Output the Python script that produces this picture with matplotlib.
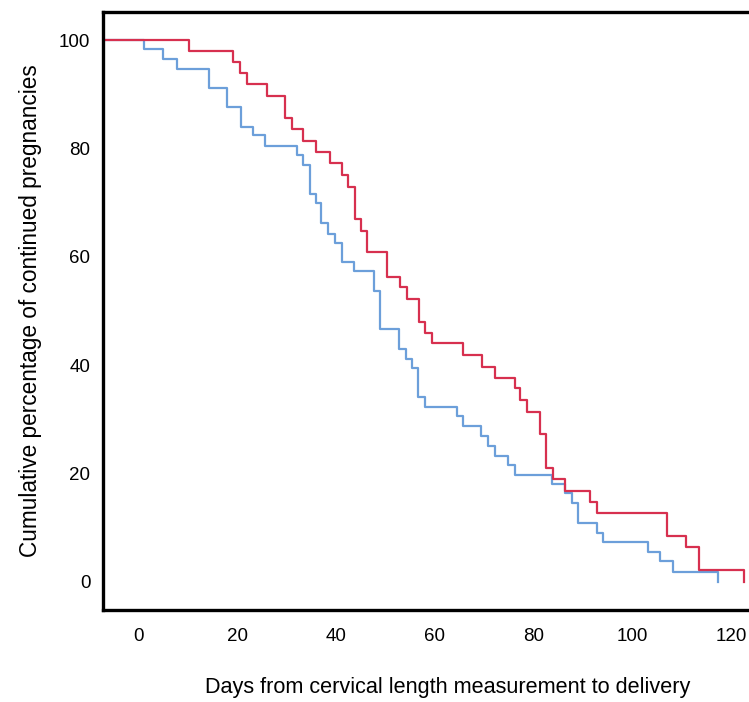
#!/usr/bin/env python3
"""Kaplan-Meier style curves: days from cervical length measurement to delivery."""

import matplotlib
matplotlib.use('Agg')
import matplotlib.pyplot as plt

# ---- data (event day, % remaining after the event) ----
red_days = [10.2, 19.2, 20.5, 21.9, 25.9, 29.6, 31.0, 33.3, 36.0, 38.7, 41.1, 42.4,
            43.8, 45.1, 46.3, 50.2, 52.9, 54.3, 56.7, 58.0, 59.3, 65.7, 69.6, 72.1,
            76.2, 77.3, 78.6, 81.2, 82.5, 83.8, 86.3, 91.4, 92.8, 106.9, 110.9,
            113.4, 122.5]
red_pct = [98.0, 96.0, 93.9, 91.9, 89.7, 85.7, 83.5, 81.4, 79.3, 77.4, 75.1, 72.9,
           66.9, 64.8, 60.8, 56.3, 54.4, 52.3, 48.0, 46.0, 44.0, 41.8, 39.7, 37.6,
           35.7, 33.5, 31.4, 27.3, 21.0, 19.0, 16.8, 14.8, 12.7, 8.5, 6.5,
           2.2, 0.0]

blue_days = [1.1, 5.0, 7.7, 14.2, 18.0, 20.7, 23.1, 25.6, 32.0, 33.3, 34.7, 36.0,
             37.0, 38.4, 39.7, 41.1, 43.7, 47.6, 48.9, 52.8, 54.2, 55.4, 56.6, 58.0,
             64.4, 65.7, 69.4, 70.8, 72.1, 74.8, 76.1, 83.6, 86.3, 87.7, 89.0,
             92.7, 94.1, 103.2, 105.5, 108.2, 117.3]
blue_pct = [98.3, 96.6, 94.6, 91.2, 87.6, 84.0, 82.4, 80.5, 78.8, 76.9, 71.6, 69.9,
            66.2, 64.3, 62.5, 59.1, 57.4, 53.7, 46.6, 43.0, 41.2, 39.4, 34.2, 32.3,
            30.6, 28.8, 26.9, 25.1, 23.3, 21.6, 19.8, 18.1, 16.4, 14.5, 10.8,
            9.1, 7.4, 5.6, 3.8, 1.9, 0.0]

x_ticks = [0, 20, 40, 60, 80, 100, 120]
y_ticks = [0, 20, 40, 60, 80, 100]

RED = '#D7304F'
BLUE = '#6C9FDA'

plt.rcParams['font.family'] = ['Liberation Sans', 'DejaVu Sans']

fig = plt.figure(figsize=(7.49, 7.02), dpi=100)
ax = fig.add_axes([0.1375, 0.131, 0.872, 0.852])

x0 = -7.2
ax.set_xlim(x0, 125)
ax.set_ylim(-5.2, 105.2)

# curves start at 100 % from the left edge of the plot
for days, pct, color in [(blue_days, blue_pct, BLUE), (red_days, red_pct, RED)]:
    ax.step([x0] + days, [100] + pct, where='post', color=color, linewidth=1.6)

ax.set_xticks(x_ticks)
ax.set_yticks(y_ticks)
ax.tick_params(length=0, labelsize=13.5, pad=13)
ax.tick_params(axis='y', pad=9)

for side in ['left', 'bottom', 'top', 'right']:
    ax.spines[side].set_linewidth(2.4)

# x label sits low and a bit right of the axes centre in the reference
fig.text(0.598, 0.02, 'Days from cervical length measurement to delivery',
         fontsize=15.6, ha='center', va='center')
ax.set_ylabel('Cumulative percentage of continued pregnancies', fontsize=16.3, labelpad=12)

fig.savefig('out.png', dpi=100)
